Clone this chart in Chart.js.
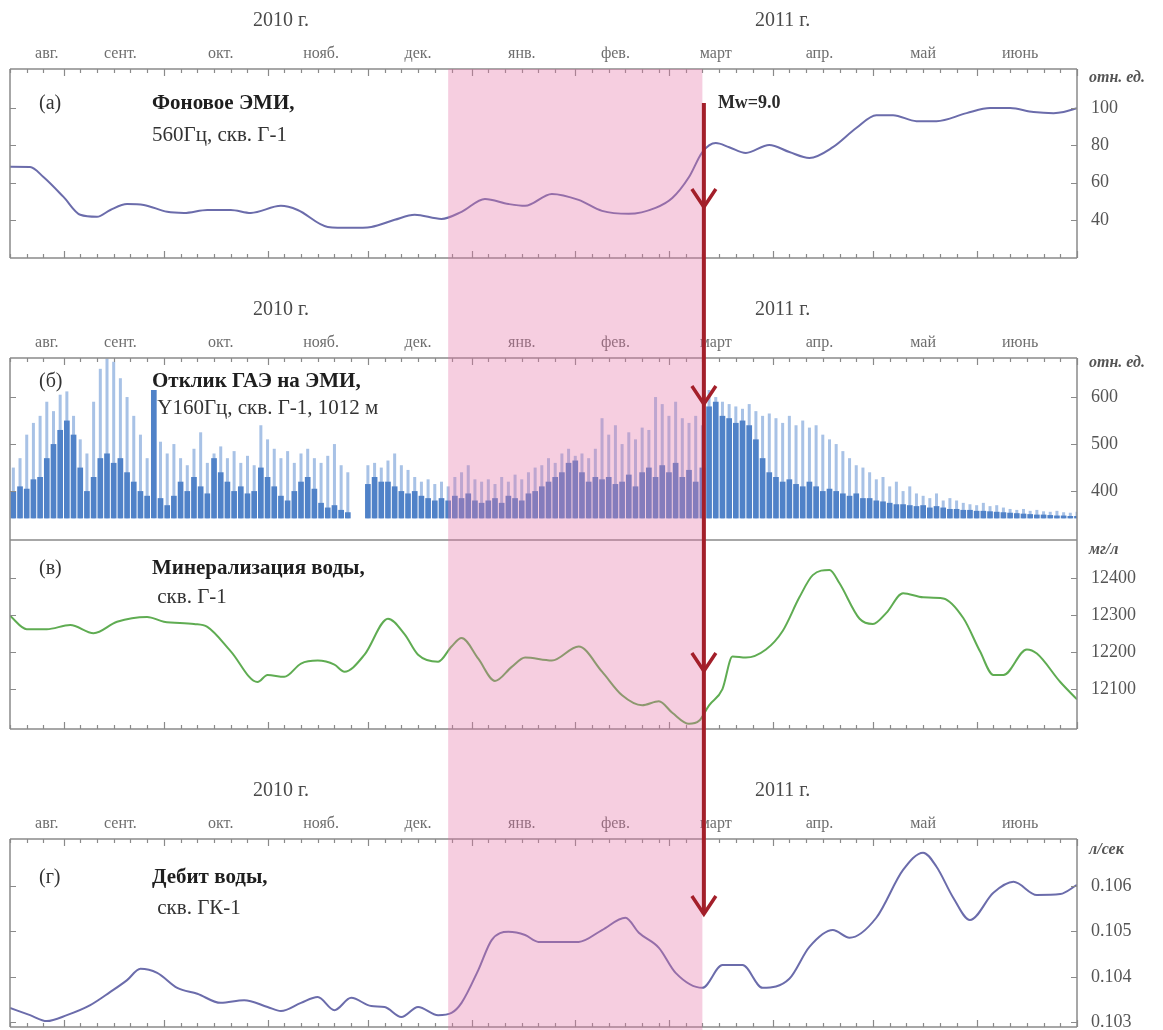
<!DOCTYPE html>
<html lang="ru">
<head>
<meta charset="utf-8">
<title>ЭМИ, отклик ГАЭ, минерализация и дебит воды, 2010–2011</title>
<script src="https://cdn.jsdelivr.net/npm/chart.js@4.4.1/dist/chart.umd.min.js"></script>
<style>
  html, body { margin: 0; background: #fff; }
  #page { position: relative; width: 1163px; height: 1030px; overflow: hidden; }
  #page canvas { position: absolute; left: 0; }
</style>
</head>
<body>
<div id="page">
  <canvas id="emiChart" width="1163" height="262" style="top:0px"></canvas>
  <canvas id="responseChart" width="1163" height="252" style="top:290px"></canvas>
  <canvas id="mineralChart" width="1163" height="210" style="top:530px"></canvas>
  <canvas id="debitChart" width="1163" height="260" style="top:770px"></canvas>
  <canvas id="overlayChart" width="1163" height="1030" style="top:0px"></canvas>
</div>
<script>
// days are counted from 1 Sep 2010
const DAY_MIN = -16;   // 16 Aug 2010
const DAY_MAX = 303;   // 1 Jul 2011

const monthStarts = [-31, 0, 30, 61, 91, 122, 153, 181, 212, 242, 273, 303];
const monthLabels = ['авг.', 'сент.', 'окт.', 'нояб.', 'дек.', 'янв.', 'фев.', 'март', 'апр.', 'май', 'июнь'];
const monthLabelDays = [-5, 17, 47, 77, 106, 137, 165, 195, 226, 257, 286];
const yearLabels = ['2010 г.', '2011 г.'];
const yearLabelDays = [65, 215];

const anomalyStart = 115;  // 25 Dec 2010
const quakeDay = 191;      // 11 Mar 2011, Mw=9.0

// (а) background EMI, 560 Hz
const emiDays = [-16, -10, -6, 0, 5, 10, 14, 19, 24, 31, 36, 43, 50, 56, 65, 70, 79, 86, 92, 99,
  105, 113, 119, 126, 133, 138, 146, 154, 161, 169, 177, 182, 187, 191, 195, 199, 204, 211, 217, 223,
  230, 237, 243, 248, 255, 261, 270, 277, 283, 290, 296, 299, 303];
const emiValues = [68.5, 68.4, 63, 52.3, 42.7, 41.6, 45.3, 48.5, 48, 44.3, 43.7, 45.3, 45.3, 43.7, 47.5, 45.3, 36.2, 35.7, 36.2, 40,
  42.7, 40.5, 44.3, 51.2, 48.5, 47.5, 53.9, 50.7, 44.8, 43.2, 46.4, 51.7, 63, 76.4, 81.2, 79, 75.9, 80.2, 76.4, 73.2,
  79, 89.3, 96.2, 96.2, 93, 93, 97.3, 100, 100, 97.9, 97.3, 97.9, 100];
const emiTicks = [40, 60, 80, 100];

// (б) acoustic response, two-day bins starting at day -15
const responseFirstDay = -15;
const responseStep = 2;
const responseFloor = 342;
const responsePeaks = [
  450, 470, 520, 545, 560, 590, 570, 605, 612, 560,
  510, 480, 590, 660, 682, 675, 640, 600, 560, 520,
  470, 490, 505, 480, 500, 470, 455, 490, 525, 460,
  480, 495, 470, 485, 460, 475, 455, 540, 510, 490,
  470, 485, 460, 480, 490, 470, 460, 475, 500, 455,
  440, null, null, 455, 460, 450, 465, 480, 455, 445,
  430, 420, 425, 415, 420, 410, 430, 440, 455, 425,
  420, 425, 415, 430, 420, 435, 425, 440, 450, 455,
  470, 460, 480, 490, 475, 480, 470, 490, 555, 520,
  540, 500, 525, 510, 535, 530, 600, 585, 560, 590,
  555, 545, 560, 540, 615, 600, 590, 585, 580, 575,
  585, 570, 560, 565, 555, 545, 560, 540, 550, 535,
  540, 520, 510, 500, 485, 470, 455, 450, 440, 425,
  430, 410, 420, 400, 410, 395, 390, 385, 395, 380,
  385, 380, 375, 372, 370, 375, 368, 370, 365, 362,
  360, 362, 358, 360, 357, 356, 358, 355, 354, 356];
const responseMeans = [
  400, 410, 405, 425, 430, 470, 500, 530, 550, 520,
  450, 400, 430, 470, 480, 460, 470, 440, 420, 400,
  390, 615, 385, 370, 390, 420, 400, 430, 410, 395,
  470, 440, 420, 400, 410, 395, 400, 450, 430, 410,
  390, 380, 400, 420, 430, 405, 375, 365, 370, 360,
  355, null, null, 415, 430, 420, 420, 410, 400, 395,
  400, 390, 385, 380, 385, 380, 390, 385, 395, 380,
  375, 380, 385, 375, 390, 385, 380, 395, 400, 410,
  420, 430, 440, 460, 465, 440, 420, 430, 425, 430,
  415, 420, 435, 410, 440, 450, 430, 455, 440, 460,
  430, 445, 420, 450, 580, 590, 560, 555, 545, 550,
  540, 510, 470, 440, 430, 420, 425, 415, 410, 420,
  410, 400, 405, 400, 395, 390, 395, 385, 385, 380,
  378, 375, 372, 372, 370, 368, 370, 365, 368, 365,
  362, 362, 360, 360, 358, 358, 357, 356, 355, 354,
  353, 352, 351, 350, 350, 349, 348, 348, 347, 347];
const responseTicks = [400, 500, 600];

// (в) water mineralisation, mg/l
const mineralDays = [-16, -11, -5, 2, 9, 16, 25, 30, 39, 43, 50, 58, 61, 66, 71, 76, 81, 84, 90, 97,
  102, 106, 112, 116, 119, 124, 129, 134, 138, 146, 154, 161, 167, 173, 178, 182, 187, 190, 193, 197,
  200, 204, 210, 215, 220, 224, 229, 232, 238, 242, 246, 251, 257, 263, 269, 274, 278, 281, 288, 291,
  298, 303];
const mineralValues = [12298, 12262, 12262, 12273, 12251, 12282, 12295, 12282, 12276, 12268, 12202, 12119, 12138, 12133, 12169, 12177, 12166, 12147, 12193, 12290,
  12248, 12193, 12174, 12215, 12238, 12182, 12122, 12160, 12185, 12177, 12215, 12147, 12083, 12056, 12067, 12036, 12006, 12014, 12056, 12100,
  12188, 12185, 12207, 12257, 12348, 12408, 12422, 12386, 12290, 12276, 12306, 12359, 12348, 12345, 12292, 12202, 12138, 12138, 12207, 12196,
  12119, 12072];
const mineralTicks = [12100, 12200, 12300, 12400];

// (г) water discharge, l/s
const debitDays = [-16, -10, -5, 1, 8, 14, 19, 23, 28, 34, 40, 47, 54, 61, 65, 71, 76, 81, 86, 92,
  96, 101, 106, 112, 116, 119, 124, 128, 133, 138, 142, 154, 161, 168, 172, 178, 183, 191, 197, 203,
  209, 217, 223, 230, 235, 243, 251, 257, 261, 266, 271, 278, 284, 291, 298, 303];
const debitValues = [0.10332, 0.10316, 0.10303, 0.10316, 0.10338, 0.10367, 0.10393, 0.10418, 0.10409, 0.10376,
  0.10363, 0.10343, 0.10349, 0.10334, 0.10325, 0.10343, 0.10356, 0.10327, 0.10354, 0.10336,
  0.10334, 0.10312, 0.10334, 0.10316, 0.10321, 0.10343, 0.10415, 0.10481, 0.10499, 0.10492,
  0.10477, 0.10477, 0.10503, 0.10530, 0.10497, 0.10464, 0.10409, 0.10376, 0.10426, 0.10426,
  0.10376, 0.10396, 0.10466, 0.10503, 0.10486, 0.10530, 0.10635, 0.10673, 0.10642, 0.10574,
  0.10525, 0.10585, 0.10609, 0.10580, 0.10582, 0.10602];
const debitTicks = [0.103, 0.104, 0.105, 0.106];

// page geometry
const PAGE_W = 1163;
const PLOT_LEFT = 10;
const PLOT_RIGHT = 1077;
const BAND_TOP = 69;
const ARROW_TOP = 103;
const ARROW_TIPS = [207, 404, 671, 914];

const SERIF = '"Liberation Serif", "Times New Roman", serif';
const FRAME = '#8a8a8a';

// month boundaries are long ticks, every fifth day a short one
const dateTicks = [];
monthStarts.forEach(m => {
  if (m >= DAY_MIN && m <= DAY_MAX) dateTicks.push({ day: m, major: true });
  for (let k = 5; k <= 25; k += 5) {
    if (m + k >= DAY_MIN && m + k < DAY_MAX) dateTicks.push({ day: m + k, major: false });
  }
});

function framePlugin(cfg) {
  return {
    id: 'frame',
    afterDatasetsDraw(chart) {
      const { ctx, chartArea: a } = chart;
      const x = chart.scales.x, y = chart.scales.y;
      ctx.save();

      ctx.strokeStyle = FRAME;
      ctx.lineWidth = 1.5;
      ctx.beginPath();
      if (cfg.top) { ctx.moveTo(a.left, a.top); ctx.lineTo(a.right, a.top); }
      if (cfg.bottom) { ctx.moveTo(a.left, a.bottom); ctx.lineTo(a.right, a.bottom); }
      ctx.moveTo(a.left, a.top); ctx.lineTo(a.left, a.bottom);
      ctx.moveTo(a.right, a.top); ctx.lineTo(a.right, a.bottom);
      ctx.stroke();

      ctx.lineWidth = 1.2;
      ctx.beginPath();
      dateTicks.forEach(t => {
        const px = Math.round(x.getPixelForValue(t.day)) + 0.5;
        const len = t.major ? 7 : 4;
        if (cfg.topTicks) { ctx.moveTo(px, a.top); ctx.lineTo(px, a.top + len); }
        if (cfg.bottomTicks) { ctx.moveTo(px, a.bottom); ctx.lineTo(px, a.bottom - len); }
      });
      cfg.ticks.forEach(v => {
        const py = Math.round(y.getPixelForValue(v)) + 0.5;
        ctx.moveTo(a.left, py); ctx.lineTo(a.left + 6, py);
        ctx.moveTo(a.right, py); ctx.lineTo(a.right - 6, py);
      });
      ctx.stroke();

      // value labels and unit on the right
      ctx.textAlign = 'left';
      ctx.textBaseline = 'middle';
      ctx.fillStyle = '#555';
      ctx.font = '18px ' + SERIF;
      cfg.ticks.forEach(v => {
        ctx.fillText(v.toFixed(cfg.decimals), a.right + 14, y.getPixelForValue(v));
      });
      ctx.font = 'italic bold 16px ' + SERIF;
      ctx.fillText(cfg.unit, a.right + 12, a.top + cfg.unitDy);

      // months and years above the frame
      if (cfg.calendar) {
        ctx.textAlign = 'center';
        ctx.fillStyle = '#6e6e6e';
        ctx.font = '16px ' + SERIF;
        monthLabels.forEach((m, i) => ctx.fillText(m, x.getPixelForValue(monthLabelDays[i]), a.top - 15));
        ctx.fillStyle = '#4a4a4a';
        ctx.font = '20px ' + SERIF;
        yearLabels.forEach((t, i) => ctx.fillText(t, x.getPixelForValue(yearLabelDays[i]), a.top - 48));
      }

      // panel caption
      ctx.textAlign = 'left';
      ctx.fillStyle = '#333';
      ctx.font = '20px ' + SERIF;
      ctx.fillText(cfg.tag, a.left + 29, a.top + cfg.captionDy);
      ctx.fillStyle = '#1e1e1e';
      ctx.font = 'bold 21px ' + SERIF;
      ctx.fillText(cfg.title, a.left + 142, a.top + cfg.captionDy);
      ctx.fillStyle = '#333';
      ctx.font = '21px ' + SERIF;
      ctx.fillText(cfg.subtitle, a.left + 142, a.top + cfg.subDy);

      ctx.restore();
    }
  };
}

function makePanel(canvasId, canvasTop, areaTop, areaBottom, yMin, yMax, type, datasets, frame) {
  const canvas = document.getElementById(canvasId);
  return new Chart(canvas, {
    type: type,
    data: { datasets: datasets },
    options: {
      responsive: false,
      animation: false,
      events: [],
      layout: {
        padding: {
          left: PLOT_LEFT,
          right: PAGE_W - PLOT_RIGHT,
          top: areaTop - canvasTop,
          bottom: canvasTop + canvas.height - areaBottom
        }
      },
      scales: {
        x: { type: 'linear', display: false, min: DAY_MIN, max: DAY_MAX, offset: false },
        y: { type: 'linear', display: false, min: yMin, max: yMax }
      },
      plugins: { legend: { display: false }, tooltip: { enabled: false } }
    },
    plugins: [framePlugin(frame)]
  });
}

function linePoints(days, values) {
  return days.map((d, i) => ({ x: d, y: values[i] }));
}

function curve(days, values, color) {
  return {
    data: linePoints(days, values),
    borderColor: color,
    borderWidth: 2,
    pointRadius: 0,
    cubicInterpolationMode: 'monotone'
  };
}

function responseBars(tops) {
  const bars = [];
  tops.forEach((t, i) => {
    if (t !== null) bars.push({ x: responseFirstDay + i * responseStep, y: [responseFloor, t] });
  });
  return bars;
}

makePanel('emiChart', 0, 69, 258, 19.5, 121, 'line',
  [curve(emiDays, emiValues, '#6b6cab')],
  { top: true, bottom: true, topTicks: true, bottomTicks: true, calendar: true,
    ticks: emiTicks, decimals: 0, unit: 'отн. ед.', unitDy: 9,
    tag: '(а)', title: 'Фоновое ЭМИ,', subtitle: '560Гц, скв. Г-1', captionDy: 35, subDy: 66 });

makePanel('responseChart', 290, 358, 540, 296, 683, 'bar',
  [
    { data: responseBars(responseMeans), backgroundColor: '#5082c8', grouped: false,
      barPercentage: 0.85, categoryPercentage: 1, order: 0 },
    { data: responseBars(responsePeaks), backgroundColor: '#a8c2e6', grouped: false,
      barPercentage: 0.45, categoryPercentage: 1, order: 1 }
  ],
  { top: true, bottom: true, topTicks: true, bottomTicks: false, calendar: true,
    ticks: responseTicks, decimals: 0, unit: 'отн. ед.', unitDy: 5,
    tag: '(б)', title: 'Отклик ГАЭ на ЭМИ,', subtitle: ' Y160Гц, скв. Г-1, 1012 м', captionDy: 24, subDy: 50 });

makePanel('mineralChart', 530, 540, 729, 11992, 12503, 'line',
  [curve(mineralDays, mineralValues, '#5fac52')],
  { top: false, bottom: true, topTicks: false, bottomTicks: true, calendar: false,
    ticks: mineralTicks, decimals: 0, unit: 'мг/л', unitDy: 10,
    tag: '(в)', title: 'Минерализация воды,', subtitle: ' скв. Г-1', captionDy: 29, subDy: 57 });

makePanel('debitChart', 770, 839, 1027, 0.1029, 0.10703, 'line',
  [curve(debitDays, debitValues, '#6b6cab')],
  { top: true, bottom: true, topTicks: true, bottomTicks: true, calendar: true,
    ticks: debitTicks, decimals: 3, unit: 'л/сек', unitDy: 11,
    tag: '(г)', title: 'Дебит воды,', subtitle: ' скв. ГК-1', captionDy: 39, subDy: 69 });

// shaded pre-earthquake interval and the earthquake marker across all panels
const anomalyPlugin = {
  id: 'anomaly',
  afterDraw(chart) {
    const { ctx, chartArea: a, scales: { x } } = chart;
    const x0 = x.getPixelForValue(anomalyStart);
    const x1 = x.getPixelForValue(quakeDay);
    ctx.save();
    ctx.fillStyle = 'rgba(229, 115, 166, 0.35)';
    ctx.fillRect(x0, a.top, x1 - x0, a.bottom - a.top);

    const ax = x1 + 1.5;
    ctx.strokeStyle = '#a31f2a';
    ctx.lineWidth = 4;
    ctx.beginPath();
    ctx.moveTo(ax, ARROW_TOP);
    ctx.lineTo(ax, ARROW_TIPS[ARROW_TIPS.length - 1]);
    ctx.stroke();
    ctx.lineWidth = 3.5;
    ARROW_TIPS.forEach(tip => {
      ctx.beginPath();
      ctx.moveTo(ax - 12, tip - 18);
      ctx.lineTo(ax, tip);
      ctx.lineTo(ax + 12, tip - 18);
      ctx.stroke();
    });

    ctx.fillStyle = '#2b2b2b';
    ctx.font = 'bold 18px ' + SERIF;
    ctx.textAlign = 'left';
    ctx.textBaseline = 'middle';
    ctx.fillText('Mw=9.0', ax + 14, ARROW_TOP);
    ctx.restore();
  }
};

new Chart(document.getElementById('overlayChart'), {
  type: 'line',
  data: { datasets: [] },
  options: {
    responsive: false,
    animation: false,
    events: [],
    layout: { padding: { left: PLOT_LEFT, right: PAGE_W - PLOT_RIGHT, top: BAND_TOP, bottom: 0 } },
    scales: {
      x: { type: 'linear', display: false, min: DAY_MIN, max: DAY_MAX },
      y: { type: 'linear', display: false, min: 0, max: 1 }
    },
    plugins: { legend: { display: false }, tooltip: { enabled: false } }
  },
  plugins: [anomalyPlugin]
});
</script>
</body>
</html>
